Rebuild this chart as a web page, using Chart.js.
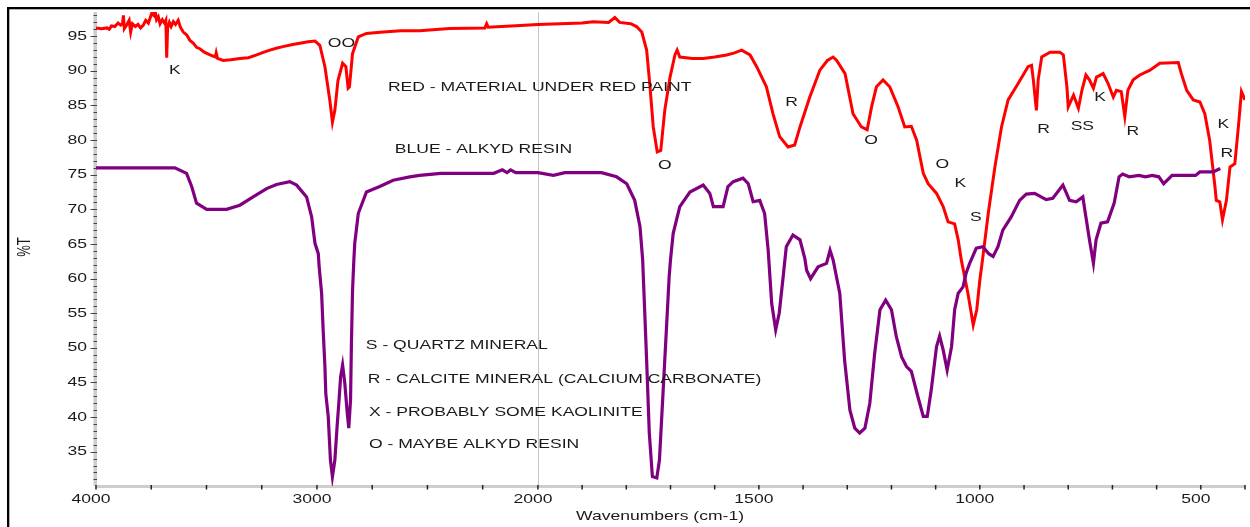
<!DOCTYPE html>
<html>
<head>
<meta charset="utf-8">
<script src="https://cdn.jsdelivr.net/npm/chart.js@4"></script>
<style>
  html, body { margin: 0; padding: 0; background: #fff; }
  .chart-wrapper { width: 1250px; height: 527px; position: relative; }
</style>
</head>
<body>
<div class="chart-wrapper"><canvas id="ftirChart"></canvas></div>
<script>
// Red trace: material under red paint (wavenumber, %T)
const sampleWn = [4000, 3975, 3950, 3940, 3930, 3915, 3900, 3888, 3880, 3876, 3872, 3862, 3850, 3843, 3835, 3822, 3810, 3798, 3786, 3775, 3763, 3748, 3738, 3733, 3726, 3718, 3710, 3700, 3690, 3684, 3680, 3676, 3668, 3660, 3650, 3640, 3628, 3618, 3605, 3590, 3575, 3560, 3545, 3530, 3510, 3484, 3460, 3456, 3450, 3424, 3390, 3349, 3310, 3273, 3240, 3213, 3180, 3154, 3110, 3077, 3040, 3009, 2987, 2964, 2942, 2930, 2919, 2905, 2884, 2869, 2859, 2853, 2839, 2813, 2776, 2700, 2620, 2535, 2400, 2240, 2232, 2225, 2100, 2000, 1900, 1875, 1840, 1826, 1815, 1790, 1777, 1765, 1754, 1747, 1739, 1730, 1722, 1713, 1701, 1690, 1685, 1679, 1650, 1626, 1600, 1573, 1555, 1539, 1520, 1505, 1483, 1468, 1453, 1434, 1419, 1407, 1385, 1362, 1345, 1332, 1324, 1305, 1287, 1268, 1255, 1245, 1234, 1219, 1204, 1185, 1170, 1155, 1143, 1128, 1117, 1098, 1083, 1072, 1057, 1049, 1042, 1027, 1015, 1007, 1000, 994, 981, 966, 951, 936, 913, 891, 883, 879, 872, 868, 860, 841, 819, 811, 803, 800, 788, 777, 769, 760, 752, 743, 736, 721, 710, 698, 691, 680, 672, 665, 653, 638, 615, 593, 551, 544, 532, 517, 502, 491, 480, 468, 465, 457, 451, 442, 434, 423, 415, 408, 400];
const sampleT = [96.2, 96.1, 96.2, 96.0, 96.5, 96.4, 96.9, 96.6, 96.8, 98.0, 96.1, 96.6, 97.3, 95.6, 96.8, 96.4, 96.7, 96.2, 96.6, 97.3, 96.9, 98.3, 98.0, 98.8, 97.4, 97.8, 96.8, 97.4, 96.9, 97.3, 91.9, 96.2, 97.0, 96.4, 97.1, 96.7, 97.3, 96.3, 95.6, 95.2, 94.4, 94.0, 93.4, 93.2, 92.7, 92.3, 92.0, 92.6, 91.8, 91.5, 91.6, 91.8, 91.9, 92.3, 92.7, 93.0, 93.3, 93.5, 93.8, 94.0, 94.2, 94.3, 93.7, 90.6, 85.8, 82.6, 84.3, 88.6, 91.1, 90.6, 87.5, 87.7, 92.5, 94.9, 95.4, 95.6, 95.8, 95.8, 96.1, 96.2, 96.8, 96.3, 96.5, 96.7, 96.9, 97.1, 97.0, 97.7, 97.0, 96.8, 96.4, 95.6, 93.0, 88.2, 81.9, 78.3, 78.5, 84.3, 89.1, 92.3, 93.0, 92.0, 91.8, 91.8, 92.0, 92.3, 92.6, 93.0, 92.3, 90.6, 87.7, 83.8, 80.5, 79.0, 79.3, 81.9, 86.2, 90.1, 91.5, 92.0, 91.5, 89.6, 83.8, 81.9, 81.5, 84.8, 87.7, 88.7, 87.7, 84.8, 81.9, 82.0, 80.0, 75.2, 73.7, 72.3, 70.4, 68.2, 67.9, 65.6, 62.7, 57.9, 53.3, 55.5, 59.8, 62.7, 69.4, 76.1, 81.9, 85.8, 88.2, 90.6, 90.8, 88.7, 84.3, 88.7, 92.0, 92.7, 92.7, 92.3, 87.7, 84.8, 86.5, 84.6, 87.2, 89.4, 88.7, 87.5, 89.1, 89.6, 88.2, 86.2, 87.2, 87.0, 83.4, 87.2, 88.7, 89.4, 90.1, 91.1, 91.2, 89.6, 87.2, 85.8, 85.5, 83.8, 80.0, 73.3, 71.3, 71.1, 68.5, 71.3, 76.1, 76.6, 81.9, 87.0, 85.8];

// Purple trace: alkyd resin reference (wavenumber, %T)
const resinWn = [4000, 3643, 3590, 3567, 3545, 3499, 3409, 3349, 3289, 3228, 3183, 3123, 3092, 3047, 3024, 3009, 2994, 2990, 2979, 2972, 2964, 2960, 2949, 2939, 2930, 2919, 2909, 2900, 2893, 2884, 2874, 2863, 2856, 2848, 2844, 2839, 2833, 2829, 2813, 2776, 2716, 2655, 2580, 2535, 2440, 2200, 2161, 2140, 2124, 2100, 2000, 1965, 1939, 1856, 1822, 1799, 1781, 1769, 1763, 1760, 1754, 1748, 1741, 1731, 1725, 1717, 1709, 1703, 1700, 1694, 1679, 1656, 1626, 1611, 1603, 1581, 1570, 1558, 1536, 1524, 1513, 1498, 1487, 1479, 1471, 1462, 1454, 1445, 1438, 1423, 1407, 1396, 1392, 1383, 1366, 1347, 1339, 1332, 1317, 1306, 1294, 1283, 1272, 1260, 1249, 1238, 1226, 1213, 1200, 1189, 1177, 1166, 1155, 1140, 1128, 1119, 1110, 1098, 1091, 1083, 1074, 1064, 1057, 1049, 1038, 1031, 1023, 1008, 993, 980, 970, 959, 948, 929, 910, 895, 876, 850, 835, 812, 797, 782, 767, 760, 752, 743, 737, 726, 711, 696, 685, 677, 662, 640, 625, 610, 595, 584, 565, 512, 502, 472, 456];
const resinT = [76.0, 76.0, 75.2, 73.3, 70.9, 70.0, 70.0, 70.6, 71.8, 73.0, 73.6, 74.0, 73.5, 71.8, 68.9, 65.1, 63.6, 61.7, 57.9, 52.6, 47.3, 43.4, 40.1, 33.8, 31.4, 33.8, 38.6, 42.5, 45.8, 47.5, 44.9, 40.6, 38.4, 42.5, 50.7, 58.3, 62.7, 65.1, 69.4, 72.5, 73.3, 74.2, 74.7, 74.9, 75.2, 75.2, 75.7, 75.3, 75.7, 75.3, 75.3, 74.9, 75.3, 75.3, 74.7, 73.7, 71.3, 67.5, 62.7, 57.9, 48.2, 37.7, 31.4, 31.2, 33.8, 43.4, 53.0, 60.3, 62.7, 66.5, 70.4, 72.5, 73.5, 72.3, 70.4, 70.4, 73.3, 74.0, 74.5, 73.7, 71.1, 71.3, 69.4, 64.1, 56.4, 52.6, 55.0, 60.3, 64.6, 66.3, 65.6, 62.9, 61.2, 60.0, 61.7, 62.2, 64.1, 62.7, 57.9, 48.2, 41.0, 38.4, 37.7, 38.4, 42.0, 49.2, 55.5, 56.9, 55.5, 51.6, 48.7, 47.3, 46.6, 42.9, 40.1, 40.1, 43.9, 50.2, 51.7, 49.7, 46.8, 50.2, 55.5, 57.9, 58.8, 60.8, 62.2, 64.4, 64.6, 63.6, 63.2, 64.6, 67.0, 68.9, 71.3, 72.2, 72.3, 71.4, 71.6, 73.5, 71.3, 71.1, 71.8, 68.9, 65.6, 62.2, 65.6, 68.0, 68.2, 70.9, 74.7, 75.1, 74.7, 74.9, 74.7, 74.9, 74.7, 73.7, 74.9, 74.9, 75.4, 75.4, 75.9];

// Tick labels
const xTickLabels = [4000, 3000, 2000, 1500, 1000, 500];
const yTickLabels = [35, 40, 45, 50, 55, 60, 65, 70, 75, 80, 85, 90, 95];

// Peak marks and notes, placed in (wavenumber, %T)
const notes = [
  { text: "K", wn: 3643, t: 90.1 },
  { text: "OO", wn: 2889, t: 93.9 },
  { text: "RED - MATERIAL UNDER RED PAINT", wn: 2679, t: 87.6, align: "left" },
  { text: "BLUE - ALKYD RESIN", wn: 2648, t: 78.7, align: "left" },
  { text: "O", wn: 1713, t: 76.4 },
  { text: "R", wn: 1426, t: 85.5 },
  { text: "O", wn: 1246, t: 80.0 },
  { text: "O", wn: 1085, t: 76.5 },
  { text: "K", wn: 1044, t: 73.8 },
  { text: "S", wn: 1009, t: 68.8 },
  { text: "R", wn: 856, t: 81.5 },
  { text: "SS", wn: 768, t: 82.0 },
  { text: "K", wn: 728, t: 86.2 },
  { text: "R", wn: 654, t: 81.2 },
  { text: "K", wn: 449, t: 82.3 },
  { text: "R", wn: 441, t: 78.1 },
  { text: "S - QUARTZ MINERAL", wn: 2779, t: 50.3, align: "left" },
  { text: "R - CALCITE MINERAL (CALCIUM CARBONATE)", wn: 2770, t: 45.5, align: "left" },
  { text: "X - PROBABLY SOME KAOLINITE", wn: 2765, t: 40.7, align: "left" },
  { text: "O - MAYBE ALKYD RESIN", wn: 2765, t: 36.1, align: "left" },
];

// The wavenumber axis is compressed 2x above 2000 cm-1
const BREAK_AT = 2000;
function toAxis(wn) {
  return wn <= BREAK_AT ? wn : BREAK_AT + (wn - BREAK_AT) / 2;
}

const TEXT_STRETCH = 1.35;
const FONT = '13px "Liberation Sans", Arial, sans-serif';
const INK = "#1a1a1a";

function toPoints(wns, ts) {
  return wns.map((wn, i) => ({ x: toAxis(wn), y: ts[i] }));
}

function drawText(ctx, text, x, y, align) {
  ctx.save();
  ctx.translate(x, y);
  ctx.scale(TEXT_STRETCH, 1);
  ctx.textAlign = align || "center";
  ctx.textBaseline = "middle";
  ctx.fillText(text, 0, 0);
  ctx.restore();
}

function minorXTicks() {
  const out = [];
  for (let v = 4000; v > BREAK_AT; v -= 250) out.push(v);
  for (let v = BREAK_AT; v >= 400; v -= 100) out.push(v);
  return out;
}

const ftirAxes = {
  id: "ftirAxes",
  beforeDatasetsDraw(chart) {
    const { ctx, chartArea: a, scales } = chart;
    const xs = scales.x, ys = scales.y;
    ctx.save();

    // scale break line at 2000
    const xb = Math.round(xs.getPixelForValue(toAxis(BREAK_AT))) + 0.5;
    ctx.strokeStyle = "#c4c4c4";
    ctx.lineWidth = 1;
    ctx.beginPath();
    ctx.moveTo(xb, a.top);
    ctx.lineTo(xb, a.bottom);
    ctx.stroke();

    // y axis band + ticks
    ctx.fillStyle = "#cdcdcd";
    ctx.fillRect(a.left - 2.5, a.top, 3.5, a.bottom - a.top);
    ctx.strokeStyle = "#444";
    ctx.lineWidth = 1;
    for (let v = 31; v <= 98; v++) {
      const y = Math.round(ys.getPixelForValue(v)) + 0.5;
      ctx.beginPath();
      ctx.moveTo(a.left - (v % 5 === 0 ? 5.5 : 2.5), y);
      ctx.lineTo(a.left + 1, y);
      ctx.stroke();
    }

    // x axis band + ticks
    ctx.fillStyle = "#cdcdcd";
    ctx.fillRect(a.left, a.bottom - 1, a.right - a.left, 3);
    ctx.strokeStyle = "#222";
    ctx.lineWidth = 1.5;
    minorXTicks().forEach((v) => {
      const x = xs.getPixelForValue(toAxis(v));
      ctx.beginPath();
      ctx.moveTo(x, a.bottom - 1);
      ctx.lineTo(x, a.bottom + 3.5);
      ctx.stroke();
    });
    ctx.restore();
  },
  afterDraw(chart) {
    const { ctx, chartArea: a, scales } = chart;
    const xs = scales.x, ys = scales.y;
    ctx.save();
    ctx.fillStyle = INK;
    ctx.font = FONT;

    xTickLabels.forEach((v) => {
      drawText(ctx, String(v), xs.getPixelForValue(toAxis(v)) - 5, a.bottom + 13);
    });
    yTickLabels.forEach((v) => {
      drawText(ctx, String(v), a.left - 9, ys.getPixelForValue(v), "right");
    });

    notes.forEach((n) => {
      drawText(ctx, n.text, xs.getPixelForValue(toAxis(n.wn)), ys.getPixelForValue(n.t), n.align);
    });

    // axis titles
    drawText(ctx, "Wavenumbers (cm-1)", 660, a.bottom + 30);
    ctx.save();
    ctx.translate(25, 247);
    ctx.scale(TEXT_STRETCH, 1);
    ctx.rotate(-Math.PI / 2);
    ctx.textAlign = "center";
    ctx.textBaseline = "middle";
    ctx.fillText("%T", 0, 0);
    ctx.restore();

    // outer frame (top and left edges visible)
    ctx.fillStyle = "#000";
    ctx.fillRect(7, 7, chart.width - 7, 2.3);
    ctx.fillRect(7, 7, 2.3, chart.height - 7);
    ctx.restore();
  },
};

new Chart(document.getElementById("ftirChart"), {
  type: "line",
  data: {
    datasets: [
      {
        label: "BLUE - ALKYD RESIN",
        data: toPoints(resinWn, resinT),
        borderColor: "#800080",
        borderWidth: 3.2,
        pointRadius: 0,
        tension: 0,
        fill: false,
      },
      {
        label: "RED - MATERIAL UNDER RED PAINT",
        data: toPoints(sampleWn, sampleT),
        borderColor: "#ff0000",
        borderWidth: 3,
        pointRadius: 0,
        tension: 0,
        fill: false,
      },
    ],
  },
  options: {
    responsive: true,
    maintainAspectRatio: false,
    devicePixelRatio: 1,
    animation: false,
    layout: { padding: { left: 96, right: 5, top: 12, bottom: 41 } },
    plugins: { legend: { display: false }, tooltip: { enabled: false } },
    scales: {
      x: { type: "linear", display: false, reverse: true, min: toAxis(400), max: toAxis(4000) },
      y: { type: "linear", display: false, min: 30.05, max: 98.5 },
    },
  },
  plugins: [ftirAxes],
});
</script>
</body>
</html>
